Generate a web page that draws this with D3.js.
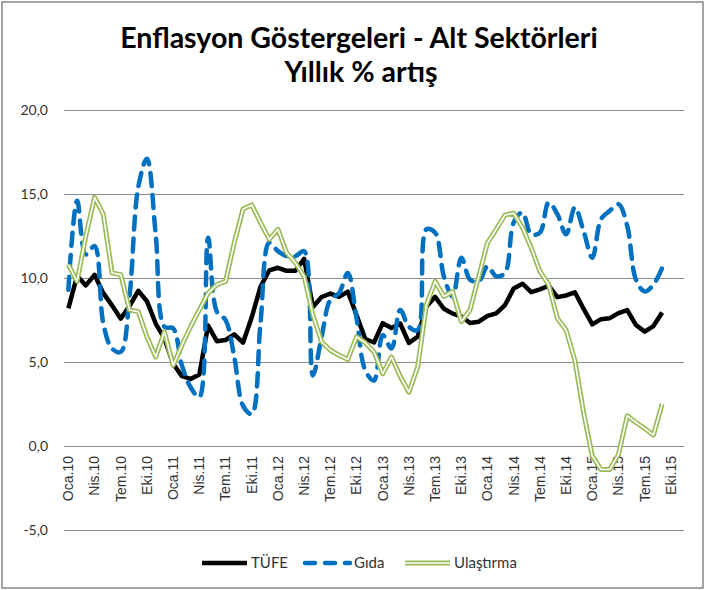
<!DOCTYPE html>
<html>
<head>
<meta charset="utf-8">
<script src="https://cdn.jsdelivr.net/npm/d3@7"></script>
<style>
	body { margin: 0; background: #fff; }
	text { font-family: Lato, 'Open Sans', sans-serif; fill: #000; }
	.title { font-size: 28.5px; font-weight: bold; }
	.tick-y { font-size: 14px; fill: #333; }
	.tick-x { font-family: 'Liberation Sans', Arial, sans-serif; font-size: 14px; fill: #333; }
	.legend { font-size: 15px; fill: #333; }
</style>
</head>
<body>
<svg width="705" height="590"></svg>
<script>
const monthNames = ['Oca', 'Şub', 'Mar', 'Nis', 'May', 'Haz', 'Tem', 'Ağu', 'Eyl', 'Eki', 'Kas', 'Ara'];
const years = ['10', '11', '12', '13', '14', '15'];
const categoryCount = 71; // Oca.10 .. Kas.15
const labelMonths = ['Oca', 'Nis', 'Tem', 'Eki'];
const yTicks = [-5, 0, 5, 10, 15, 20];

const tufe = [8.19, 10.13, 9.56, 10.19, 9.10, 8.37, 7.58, 8.33, 9.24, 8.62, 7.29, 6.40,
	4.90, 4.16, 3.99, 4.26, 7.17, 6.24, 6.31, 6.65, 6.15, 7.66, 9.48, 10.45,
	10.61, 10.43, 10.43, 11.14, 8.28, 8.87, 9.07, 8.88, 9.19, 7.80, 6.37, 6.16,
	7.31, 7.03, 7.29, 6.13, 6.51, 8.30, 8.88, 8.17, 7.88, 7.71, 7.32, 7.40,
	7.75, 7.89, 8.39, 9.38, 9.66, 9.16, 9.32, 9.54, 8.86, 8.96, 9.15, 8.17,
	7.24, 7.55, 7.61, 7.91, 8.09, 7.20, 6.81, 7.14, 7.95];

const gida = [9.3, 14.6, 11.4, 11.9, 7.3, 5.8, 5.6, 8.9, 15.4, 17.1, 12.6, 7.1,
	7.0, 4.8, 3.5, 2.9, 12.4, 8.0, 7.5, 5.3, 2.4, 1.9, 7.3, 12.1,
	11.6, 11.3, 11.3, 11.6, 4.2, 6.5, 8.7, 9.1, 10.3, 7.6, 4.5, 3.9,
	6.6, 5.8, 8.1, 7.1, 6.9, 12.9, 12.7, 10.1, 8.9, 11.2, 9.9, 9.8,
	10.7, 10.1, 10.3, 13.3, 13.9, 12.6, 12.7, 14.5, 13.8, 12.6, 14.2, 12.8,
	11.2, 13.5, 14.0, 14.4, 13.1, 9.9, 9.2, 9.6, 10.6];

const ulastirma = [10.8, 9.8, 12.5, 14.8, 13.8, 10.3, 10.2, 8.1, 8.0, 6.5, 5.3, 6.8,
	4.8, 6.0, 7.1, 8.1, 9.1, 9.6, 9.8, 12.1, 14.1, 14.35, 13.3, 12.3,
	12.9, 11.5, 10.9, 10.1, 7.8, 6.2, 5.7, 5.4, 5.15, 6.5, 6.15, 5.6,
	4.3, 5.3, 4.15, 3.2, 4.7, 8.4, 9.8, 8.9, 9.2, 7.4, 8.1, 10.1,
	12.1, 12.9, 13.75, 13.85, 13.0, 11.8, 10.4, 9.6, 7.6, 6.9, 5.1, 2.0,
	-0.6, -1.4, -1.4, -0.5, 1.8, 1.4, 1.05, 0.65, 2.5];

const categories = d3.range(categoryCount)
	.map(i => `${monthNames[i % 12]}.${years[Math.floor(i / 12)]}`);

const svg = d3.select('svg');
const width = +svg.attr('width');
const height = +svg.attr('height');

svg.append('rect')
	.attr('x', 2)
	.attr('y', 2)
	.attr('width', width - 4)
	.attr('height', height - 4)
	.attr('fill', '#fff')
	.attr('stroke', '#868686')
	.attr('stroke-width', 1.5);

const plot = {left: 64, right: 684, top: 110, bottom: 530};

const xScale = d3.scaleBand()
	.domain(categories)
	.range([plot.left, plot.right]);

const yScale = d3.scaleLinear()
	.domain([-5, 20])
	.range([plot.bottom, plot.top]);

const xCenter = i => xScale(categories[i]) + xScale.bandwidth() / 2;

// gridlines + y labels
const yAxis = d3.axisLeft(yScale)
	.tickValues(yTicks)
	.tickSize(-(plot.right - plot.left))
	.tickPadding(16)
	.tickFormat(d => d3.format('.1f')(d).replace('.', ',').replace('−', '-'));

const yAxisG = svg.append('g')
	.attr('transform', `translate(${plot.left}, 0)`)
	.call(yAxis);

yAxisG.select('.domain').remove();
yAxisG.selectAll('line')
	.attr('stroke', '#8c8c8c')
	.attr('stroke-width', 1.2);
yAxisG.selectAll('text')
	.attr('class', 'tick-y')
	.attr('font-family', null)
	.attr('font-size', null);

// category axis at 0, labels rotated
const xAxis = d3.axisBottom(xScale)
	.tickValues(categories.filter(c => labelMonths.includes(c.split('.')[0])))
	.tickSize(0)
	.tickPadding(0);

const xAxisG = svg.append('g')
	.attr('transform', `translate(0, ${yScale(0)})`)
	.call(xAxis);

xAxisG.select('.domain').remove();
xAxisG.selectAll('text')
	.attr('class', 'tick-x')
	.attr('font-family', null)
	.attr('font-size', null)
	.attr('transform', 'rotate(-90)')
	.attr('text-anchor', 'end')
	.attr('x', -10)
	.attr('y', 0)
	.attr('dy', '0.35em');

// lines
const lineGen = d3.line()
	.x((d, i) => xCenter(i))
	.y(d => yScale(d));

svg.append('path')
	.attr('d', lineGen(tufe))
	.attr('fill', 'none')
	.attr('stroke', '#000')
	.attr('stroke-width', 4.5)
	.attr('stroke-linejoin', 'round');

svg.append('path')
	.attr('d', lineGen.curve(d3.curveCatmullRom)(gida))
	.attr('fill', 'none')
	.attr('stroke', '#0070c0')
	.attr('stroke-width', 4.5)
	.attr('stroke-dasharray', '13,9')
	.attr('stroke-linecap', 'round');

lineGen.curve(d3.curveLinear);

svg.append('path')
	.attr('d', lineGen(ulastirma))
	.attr('fill', 'none')
	.attr('stroke', '#9bbb59')
	.attr('stroke-width', 5)
	.attr('stroke-linejoin', 'round');

svg.append('path')
	.attr('d', lineGen(ulastirma))
	.attr('fill', 'none')
	.attr('stroke', '#fff')
	.attr('stroke-width', 1.6)
	.attr('stroke-linejoin', 'round');

// title
svg.append('text')
	.attr('class', 'title')
	.attr('x', 359)
	.attr('y', 48)
	.attr('text-anchor', 'middle')
	.text('Enflasyon Göstergeleri - Alt Sektörleri');

svg.append('text')
	.attr('class', 'title')
	.attr('x', 361)
	.attr('y', 82)
	.attr('text-anchor', 'middle')
	.text('Yıllık % artış');

// legend
const legendItems = [
	{name: 'TÜFE', x: 202, stroke: '#000', dash: null, double: false},
	{name: 'Gıda', x: 305, stroke: '#0070c0', dash: '10,10', double: false},
	{name: 'Ulaştırma', x: 405, stroke: '#9bbb59', dash: null, double: true}
];
const legendY = 563;

const legendG = svg.selectAll('.legend-item')
	.data(legendItems)
	.enter().append('g')
		.attr('class', 'legend-item')
		.attr('transform', d => `translate(${d.x}, ${legendY})`);

legendG.append('line')
	.attr('x1', 0)
	.attr('x2', 45)
	.attr('stroke', d => d.stroke)
	.attr('stroke-width', d => d.double ? 5 : 4.5)
	.attr('stroke-dasharray', d => d.dash)
	.attr('stroke-linecap', d => d.dash ? 'round' : 'butt');

legendG.filter(d => d.double).append('line')
	.attr('x1', 0)
	.attr('x2', 45)
	.attr('stroke', '#fff')
	.attr('stroke-width', 1.6);

legendG.append('text')
	.attr('class', 'legend')
	.attr('x', 49)
	.attr('dy', '0.35em')
	.text(d => d.name);
</script>
</body>
</html>
